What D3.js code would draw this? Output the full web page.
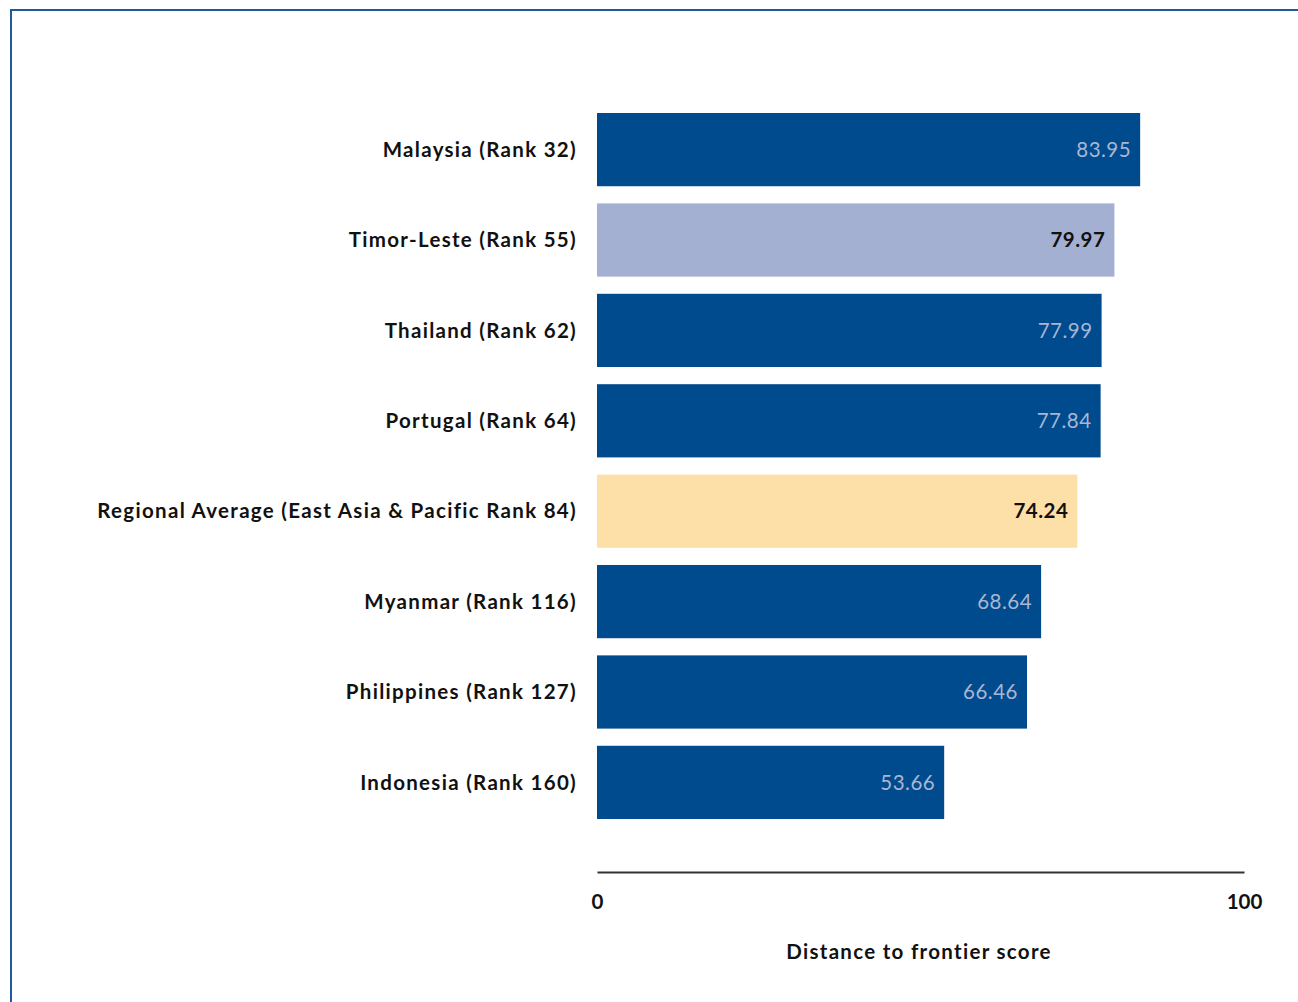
<!DOCTYPE html>
<html>
<head>
<meta charset="utf-8">
<script src="https://cdn.jsdelivr.net/npm/d3@7"></script>
<style>
  body { margin: 0; background: #fff; }
  .lbl { font-family: Lato, "Open Sans", sans-serif; font-weight: bold; font-size: 20.5px; }
</style>
</head>
<body>
<div id="chart"></div>
<script>
// data
var countries = ["Malaysia (Rank 32)", "Timor-Leste (Rank 55)", "Thailand (Rank 62)", "Portugal (Rank 64)",
  "Regional Average (East Asia & Pacific Rank 84)", "Myanmar (Rank 116)", "Philippines (Rank 127)", "Indonesia (Rank 160)"];
var scores = [83.95, 79.97, 77.99, 77.84, 74.24, 68.64, 66.46, 53.66];
var kinds = ["other", "focus", "other", "other", "region", "other", "other", "other"];
var axisTicks = [0, 100];
var axisTitle = "Distance to frontier score";

var width = 1298, height = 1002;

var fillFor = { other: "#004b8d", focus: "#a4b0d2", region: "#fde0a8" };
var textFor = { other: "#a9b6d3", focus: "#111", region: "#111" };

var svg = d3.select("#chart")
  .append("svg")
    .attr("width", width)
    .attr("height", height);

// frame (top + left edge)
svg.append("path")
  .attr("d", "M11,1002 V10 H1298")
  .attr("fill", "none")
  .attr("stroke", "#1f5aa0")
  .attr("stroke-width", 2);

var x = d3.scaleLinear()
  .domain([0, 100])
  .range([597, 1244]);

var y = d3.scaleBand()
  .domain(countries)
  .range([113, 819])
  .paddingInner(0.19)
  .paddingOuter(0);

// bars
svg.append("g")
  .selectAll("rect")
  .data(countries)
  .enter()
    .append("rect")
    .attr("x", x(0))
    .attr("y", d => y(d))
    .attr("width", (d, i) => x(scores[i]) - x(0))
    .attr("height", y.bandwidth())
    .attr("fill", (d, i) => fillFor[kinds[i]]);

// value labels inside the bars
svg.append("g")
  .selectAll("text")
  .data(countries)
  .enter()
    .append("text")
    .attr("class", "lbl")
    .attr("x", (d, i) => x(scores[i]) - 9)
    .attr("y", d => y(d) + y.bandwidth() / 2)
    .attr("dy", "0.35em")
    .attr("text-anchor", "end")
    .style("letter-spacing", "0.5px")
    .style("font-weight", (d, i) => kinds[i] == "other" ? "normal" : "bold")
    .attr("fill", (d, i) => textFor[kinds[i]])
    .text((d, i) => scores[i].toFixed(2));

// category labels
svg.append("g")
  .selectAll("text")
  .data(countries)
  .enter()
    .append("text")
    .attr("class", "lbl")
    .attr("x", 577)
    .attr("y", d => y(d) + y.bandwidth() / 2)
    .attr("dy", "0.35em")
    .attr("text-anchor", "end")
    .style("letter-spacing", "1.3px")
    .attr("fill", "#111")
    .text(d => d);

// x axis
var xAxis = svg.append("g")
  .attr("transform", "translate(0,872)")
  .call(d3.axisBottom(x)
    .tickValues(axisTicks)
    .tickSize(0)
    .tickPadding(22)
    .tickFormat(d3.format("d")));

xAxis.select(".domain")
  .attr("stroke", "#333")
  .attr("stroke-width", 2);

xAxis.selectAll("text")
  .attr("class", "lbl")
  .attr("fill", "#111");

// axis title
svg.append("text")
  .attr("class", "lbl")
  .attr("x", 919)
  .attr("y", 959)
  .attr("text-anchor", "middle")
  .style("letter-spacing", "1.3px")
  .attr("fill", "#111")
  .text(axisTitle);
</script>
</body>
</html>
